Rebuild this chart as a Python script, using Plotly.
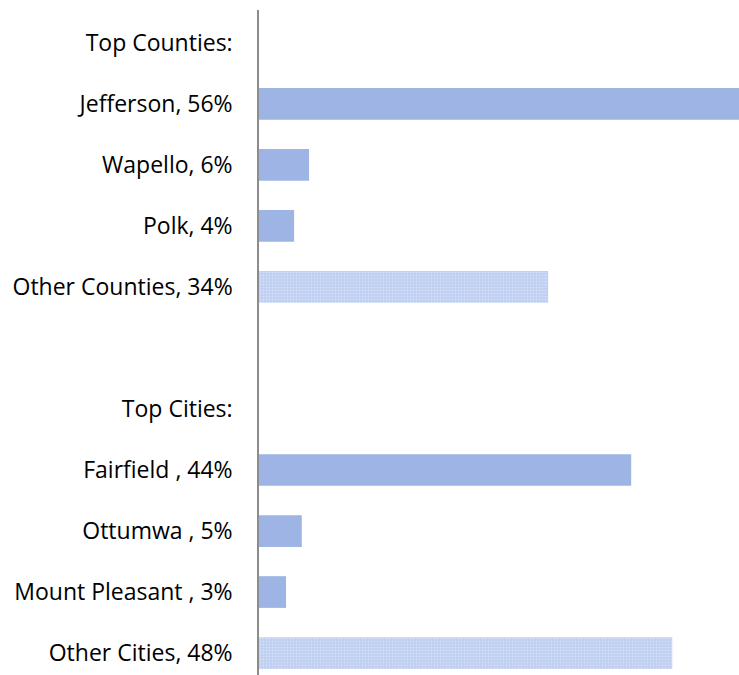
import plotly.graph_objects as go

categories = ["Top Counties:", "Jefferson, 56%", "Wapello, 6%", "Polk, 4%", "Other Counties, 34%",
              " ", "Top Cities:", "Fairfield , 44%", "Ottumwa , 5%", "Mount Pleasant , 3%", "Other Cities, 48%"]
solid_values = [None, 56.1, 5.85, 4.1, None, None, None, 43.5, 5.0, 3.16, None]
other_values = [None, None, None, None, 33.8, None, None, None, None, None, 48.3]

fig = go.Figure()
fig.add_trace(go.Bar(
    y=categories, x=solid_values, orientation="h",
    marker=dict(color="#9db4e4", line=dict(width=0)),
    hoverinfo="skip",
))
fig.add_trace(go.Bar(
    y=categories, x=other_values, orientation="h",
    marker=dict(color="#c2d2f0", line=dict(width=0),
                pattern=dict(shape=".", fgcolor="#eef3fb", bgcolor="#bccdf0", size=3, solidity=0.35)),
    hoverinfo="skip",
))

fig.update_layout(
    width=739, height=675,
    margin=dict(l=259, r=0, t=10, b=0),
    paper_bgcolor="white", plot_bgcolor="white",
    barmode="overlay", bargap=0.48, showlegend=False,
    font=dict(family="Open Sans, sans-serif", size=23, color="#000000"),
)
fig.update_xaxes(range=[0, 56.1], showticklabels=False, showgrid=False, zeroline=False, showline=False)
fig.update_yaxes(
    type="category", categoryorder="array", categoryarray=categories,
    range=[10.36, -0.54], showgrid=False, zeroline=False,
    showline=True, linecolor="#8c8c8c", linewidth=1.5,
    ticks="outside", ticklen=20, tickcolor="rgba(0,0,0,0)",
    tickfont=dict(family="Open Sans, sans-serif", size=23, color="#000000"),
)

fig.write_html("out.html", config={"displayModeBar": False},
               post_script="document.body.style.margin='0';document.body.style.overflow='hidden';")
